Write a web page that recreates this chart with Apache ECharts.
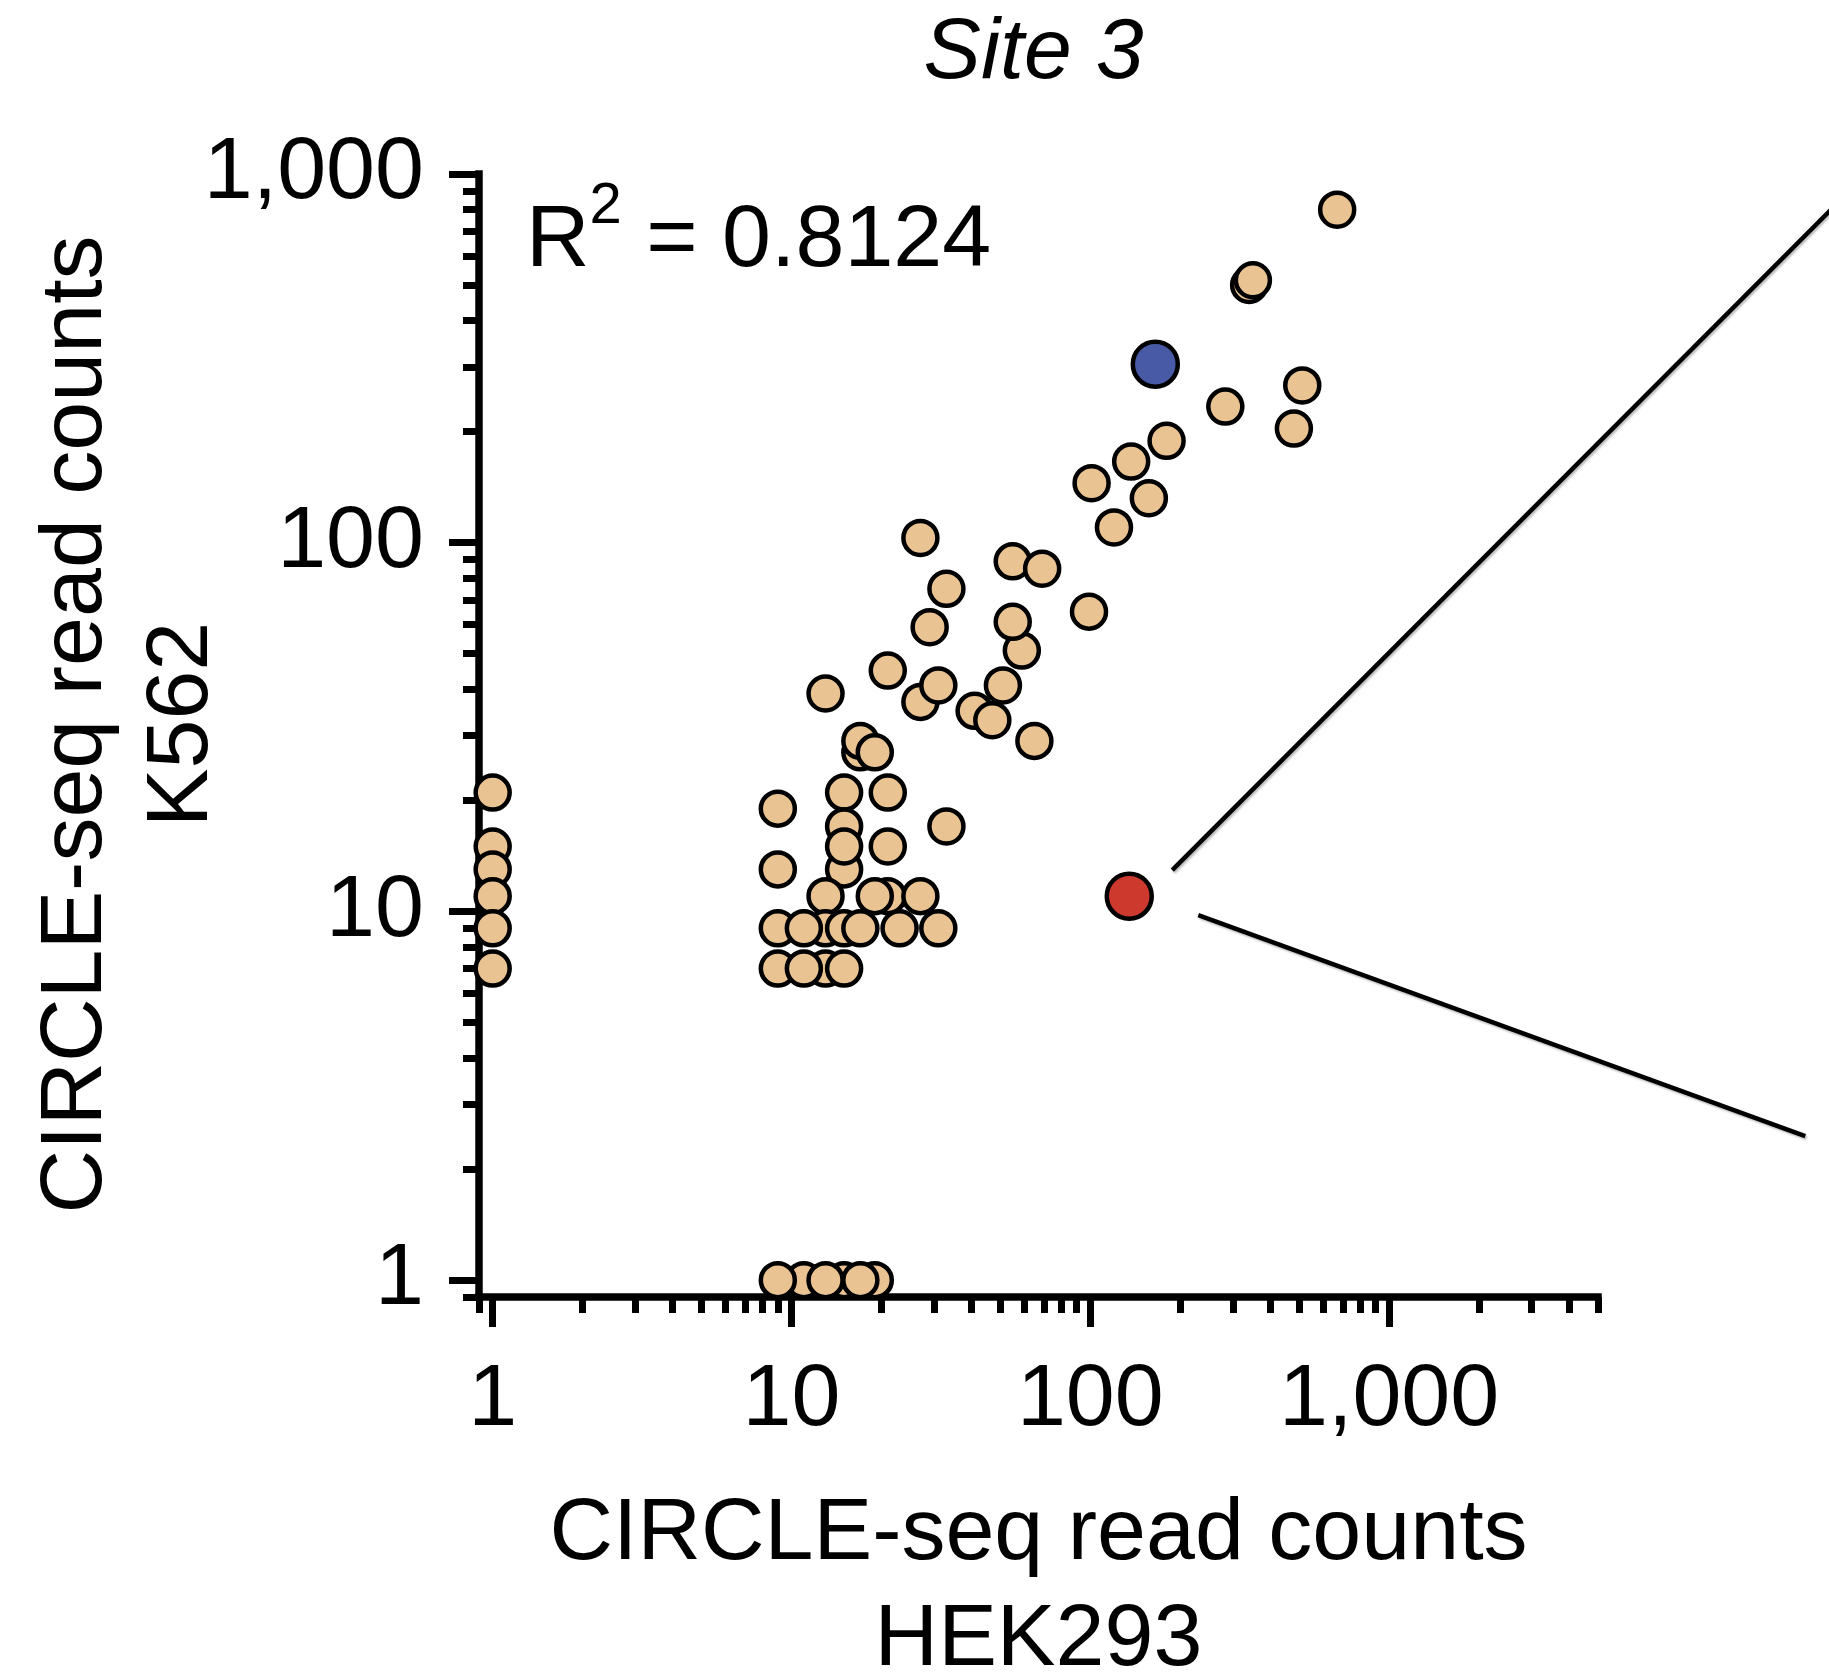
<!DOCTYPE html>
<html>
<head>
<meta charset="utf-8">
<title>Site 3</title>
<script src="https://cdn.jsdelivr.net/npm/echarts@6/dist/echarts.min.js"></script>
<style>
  html, body { margin: 0; padding: 0; background: #ffffff; }
  #chart { width: 1829px; height: 1675px; }
</style>
</head>
<body>
<div id="chart"></div>
<script>
// CIRCLE-seq read counts per site, HEK293 (x) vs K562 (y)
const otherSitesHEK293 = [
  670, 340, 350, 512, 283, 480, 180, 137, 101, 157, 120,
  27, 55, 69, 33, 99, 59, 55, 29, 21, 27, 31, 51, 41, 47, 65, 13, 17, 17, 19,
  9, 15, 21, 33, 15, 15, 15, 21, 9, 13, 21, 19, 27,
  13, 15, 9, 11, 17, 23, 31, 13, 9, 11, 15,
  11, 15, 19, 9, 13, 17,
  1, 1, 1, 1, 1, 1
];
const otherSitesK562 = [
  800, 500, 515, 267, 234, 204, 189, 166, 145, 132, 110,
  103, 89, 85, 75, 65, 51, 61, 59, 45, 37, 41, 41, 35, 33, 29, 39, 27, 29, 27,
  19, 21, 21, 17, 17, 13, 15, 15, 13, 11, 11, 11, 11,
  9, 9, 9, 9, 9, 9, 9, 7, 7, 7, 7,
  1, 1, 1, 1, 1, 1,
  21, 15, 13, 11, 9, 7
];
const onTargetHEK293 = [165];
const onTargetK562 = [305];
const calloutSiteHEK293 = [135];
const calloutSiteK562 = [11];

// axis ticks (read counts)
const majorTicks = [1, 10, 100, 1000];
const xMinorTicks = [0.9, 2, 3, 4, 5, 6, 7, 8, 9, 20, 30, 40, 50, 60, 70, 80, 90,
  200, 300, 400, 500, 600, 700, 800, 900, 2000, 3000, 4000, 5000];
const yMinorTicks = [0.9, 2, 3, 4, 5, 6, 7, 8, 9, 20, 30, 40, 50, 60, 70, 80, 90,
  200, 300, 400, 500, 600, 700, 800, 900];
const xRange = [0.9, 5000];
const yRange = [0.9, 1000];

const FONT = '"Liberation Sans", Arial, Helvetica, sans-serif';
const GRID = { left: 479, right: 231, top: 174, bottom: 378 };
const W = 1829, H = 1675;

const lg = v => Math.log10(v);
const pairs = (xs, ys) => xs.map((x, i) => [lg(x), lg(ys[i])]);
const fmt = v => Math.round(Math.pow(10, v)).toLocaleString('en-US');

const AXIS_W = 7.5;
const TICK_W = 7;
const axisCommon = {
  type: 'value',
  splitLine: { show: false },
  axisPointer: { show: false }
};

function majorAxis(dim, range, extra) {
  return Object.assign({}, axisCommon, {
    min: lg(range[0]),
    max: lg(range[1]),
    axisLine: { show: true, onZero: false, lineStyle: { color: '#000', width: AXIS_W, cap: 'square' } },
    axisTick: {
      show: true, inside: false, length: 30,
      customValues: majorTicks.map(lg),
      lineStyle: { color: '#000', width: TICK_W }
    },
    axisLabel: {
      show: true,
      customValues: majorTicks.map(lg),
      formatter: fmt,
      fontFamily: FONT, fontSize: 88, color: '#000',
      margin: dim === 'x' ? 60 : 55
    },
    nameLocation: 'middle',
    nameMoveOverlap: false,
    nameTextStyle: { fontFamily: FONT, fontSize: 88, color: '#000', lineHeight: 106 }
  }, extra);
}

function minorAxis(range, ticks, position) {
  return Object.assign({}, axisCommon, {
    min: lg(range[0]),
    max: lg(range[1]),
    position: position,
    offset: 0,
    axisLine: { show: false, onZero: false },
    axisTick: {
      show: true, inside: false, length: 16,
      customValues: ticks.map(lg),
      lineStyle: { color: '#000', width: TICK_W }
    },
    axisLabel: { show: false }
  });
}

const chart = echarts.init(document.getElementById('chart'), null, { renderer: 'canvas', width: W, height: H });

const plotCenterX = GRID.left + (W - GRID.left - GRID.right) / 2;

chart.setOption({
  animation: false,
  backgroundColor: '#ffffff',
  title: {
    text: 'Site 3',
    left: plotCenterX - 10,
    top: 6,
    textAlign: 'center',
    textStyle: { fontFamily: FONT, fontSize: 86, fontStyle: 'italic', fontWeight: 'normal', color: '#000', lineHeight: 86 }
  },
  grid: Object.assign({ containLabel: false, outerBoundsMode: 'none' }, GRID),
  xAxis: [
    majorAxis('x', xRange, { position: 'bottom', name: 'CIRCLE-seq read counts\nHEK293', nameGap: 185 }),
    minorAxis(xRange, xMinorTicks, 'bottom')
  ],
  yAxis: [
    majorAxis('y', yRange, {
      position: 'left', name: 'CIRCLE-seq read counts\nK562', nameGap: 243,
      nameTextStyle: { fontFamily: FONT, fontSize: 88, color: '#000', lineHeight: 106, padding: [0, 0, 0, 22] }
    }),
    minorAxis(yRange, yMinorTicks, 'left')
  ],
  series: [
    {
      name: 'Other sites',
      type: 'scatter',
      xAxisIndex: 0, yAxisIndex: 0,
      symbol: 'circle',
      symbolSize: 34,
      clip: false,
      itemStyle: { color: '#E9C492', borderColor: '#000', borderWidth: 4.5, opacity: 1 },
      data: pairs(otherSitesHEK293, otherSitesK562),
      z: 3
    },
    {
      name: 'On-target',
      type: 'scatter',
      xAxisIndex: 0, yAxisIndex: 0,
      symbol: 'circle',
      symbolSize: 45,
      clip: false,
      itemStyle: { color: '#485AA5', borderColor: '#000', borderWidth: 4.5, opacity: 1 },
      data: pairs(onTargetHEK293, onTargetK562),
      z: 4
    },
    {
      name: 'Highlighted site',
      type: 'scatter',
      xAxisIndex: 0, yAxisIndex: 0,
      symbol: 'circle',
      symbolSize: 45,
      clip: false,
      itemStyle: { color: '#CD392D', borderColor: '#000', borderWidth: 4.5, opacity: 1 },
      data: pairs(calloutSiteHEK293, calloutSiteK562),
      z: 4
    }
  ]
});

// R-squared annotation and the two callout lines leading off from the highlighted site
const hl = chart.convertToPixel({ xAxisIndex: 0, yAxisIndex: 0 }, [lg(calloutSiteHEK293[0]), lg(calloutSiteK562[0])]);
const calloutStyle = {
  stroke: '#000', lineWidth: 4.5,
  shadowColor: 'rgba(0,0,0,0.25)', shadowBlur: 2, shadowOffsetX: 1.5, shadowOffsetY: 2
};
const rX = GRID.left + 47;          // left edge of the "R"
const rBase = 272;                  // baseline of the main text
const supBase = rBase - 45;         // baseline of the superscript
const mainSize = 88, supSize = 58;
const txt = (text, x, cy, size) => ({
  type: 'text', silent: true, x: x, y: cy,
  style: { text: text, fontFamily: FONT, fontSize: size, fill: '#000', align: 'left', verticalAlign: 'middle' }
});

chart.setOption({
  graphic: [
    txt('R', rX, rBase - 0.3465 * mainSize, mainSize),
    txt('2', rX + 0.722 * mainSize, supBase - 0.3465 * supSize, supSize),
    txt(' = 0.8124', rX + 0.722 * mainSize + 0.556 * supSize, rBase - 0.3465 * mainSize, mainSize),
    {
      type: 'line',
      silent: true,
      shape: { x1: hl[0] + 43, y1: hl[1] - 26, x2: hl[0] + 43 + 720, y2: hl[1] - 26 - 722 },
      style: calloutStyle
    },
    {
      type: 'line',
      silent: true,
      shape: { x1: hl[0] + 69, y1: hl[1] + 19, x2: hl[0] + 676, y2: hl[1] + 240 },
      style: calloutStyle
    }
  ]
});
</script>
</body>
</html>
